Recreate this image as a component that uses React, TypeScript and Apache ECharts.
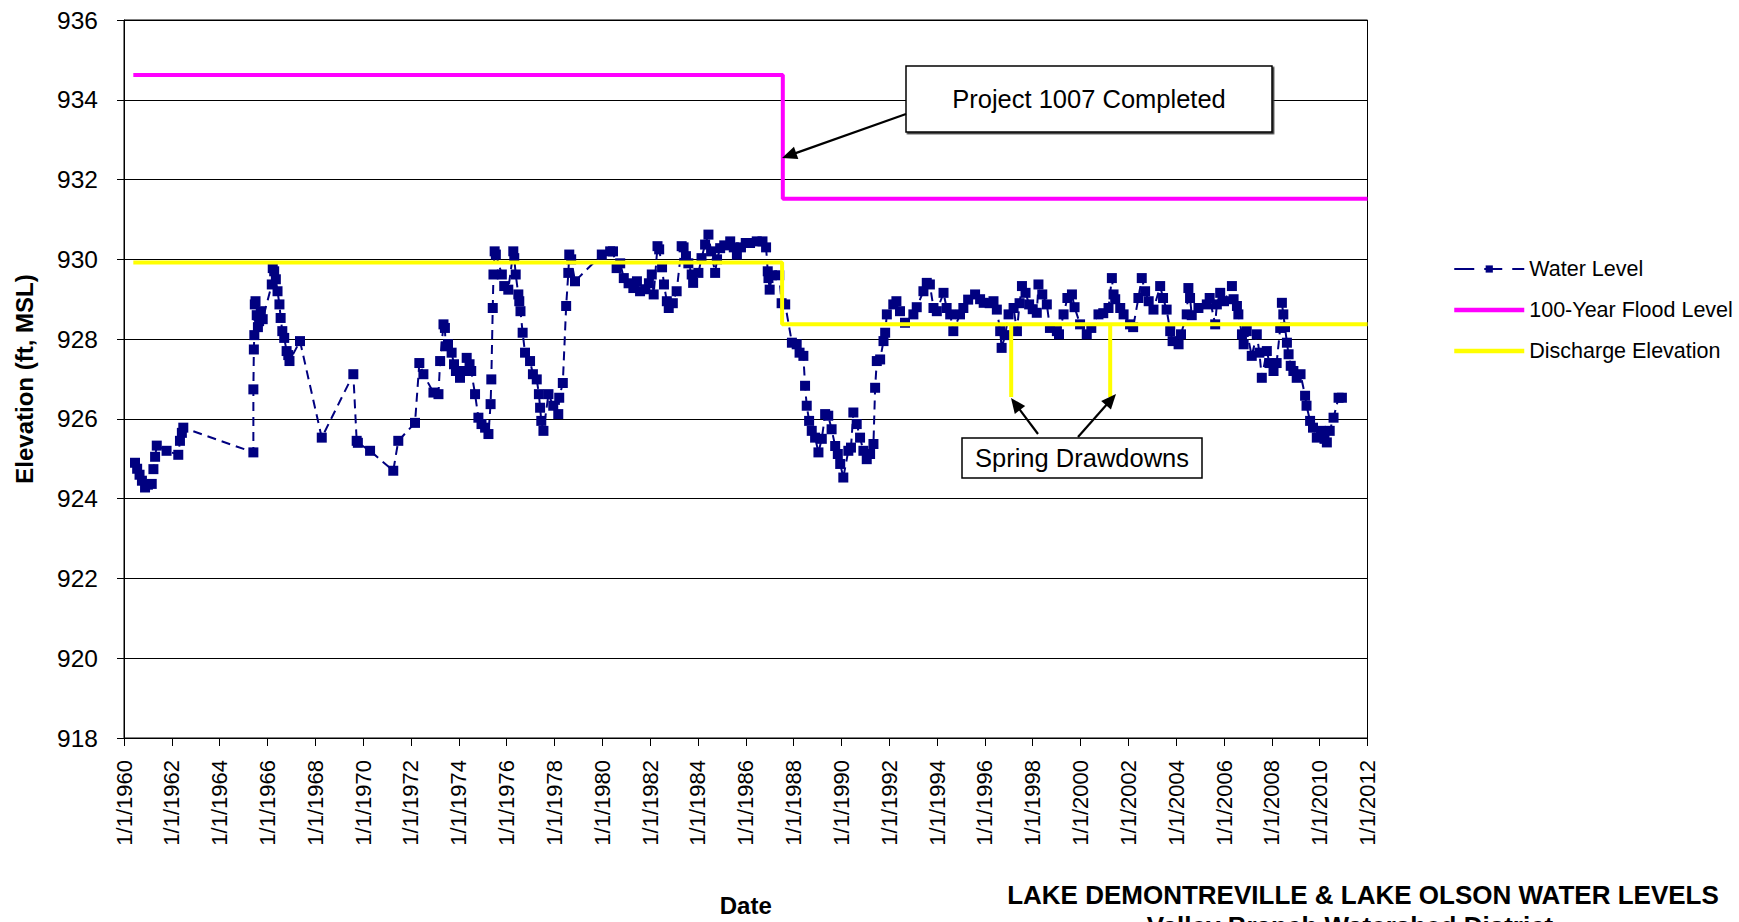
import React, { useEffect, useRef } from 'react';
import * as echarts from 'echarts';

// ---- Data (decimal years, elevation ft MSL) ----
const waterYears: number[] = [
  1960.46, 1960.55, 1960.65, 1960.75, 1960.88, 1961.0, 1961.16, 1961.23, 1961.3, 1961.37,
  1961.78, 1962.27, 1962.34, 1962.42, 1962.48, 1965.41, 1965.41, 1965.43, 1965.45, 1965.47,
  1965.5, 1965.55, 1965.6, 1965.65, 1965.72, 1965.8, 1966.18, 1966.22, 1966.28, 1966.35,
  1966.42, 1966.5, 1966.55, 1966.62, 1966.7, 1966.8, 1966.87, 1966.92, 1967.36, 1968.27,
  1969.59, 1969.73, 1969.78, 1970.29, 1971.26, 1971.47, 1972.17, 1972.35, 1972.52, 1972.94,
  1973.15, 1973.22, 1973.36, 1973.42, 1973.45, 1973.55, 1973.7, 1973.8, 1973.88, 1974.05,
  1974.2, 1974.33, 1974.45, 1974.52, 1974.68, 1974.82, 1974.95, 1975.1, 1975.24, 1975.33,
  1975.36, 1975.42, 1975.45, 1975.5, 1975.55, 1975.8, 1975.9, 1976.07, 1976.28, 1976.32,
  1976.38, 1976.49, 1976.53, 1976.58, 1976.67, 1976.77, 1976.98, 1977.1, 1977.26, 1977.35,
  1977.4, 1977.45, 1977.54, 1977.75, 1977.95, 1978.16, 1978.2, 1978.35, 1978.49, 1978.58,
  1978.62, 1978.7, 1978.86, 1979.98, 1980.33, 1980.45, 1980.6, 1980.75, 1980.9, 1981.1,
  1981.3, 1981.45, 1981.58, 1981.8, 1981.95, 1982.07, 1982.15, 1982.31, 1982.38, 1982.5,
  1982.58, 1982.7, 1982.78, 1982.95, 1983.11, 1983.32, 1983.4, 1983.5, 1983.6, 1983.74,
  1983.8, 1984.02, 1984.15, 1984.3, 1984.44, 1984.55, 1984.72, 1984.8, 1984.93, 1985.1,
  1985.35, 1985.5, 1985.63, 1985.8, 1986.0, 1986.18, 1986.46, 1986.7, 1986.85, 1986.92,
  1986.95, 1987.0, 1987.1, 1987.4, 1987.5, 1987.65, 1987.93, 1988.13, 1988.25, 1988.41,
  1988.48, 1988.55, 1988.65, 1988.76, 1988.9, 1989.04, 1989.18, 1989.32, 1989.45, 1989.59,
  1989.74, 1989.85, 1989.95, 1990.08, 1990.29, 1990.4, 1990.5, 1990.64, 1990.78, 1990.92,
  1991.06, 1991.2, 1991.34, 1991.41, 1991.48, 1991.62, 1991.76, 1991.83, 1991.9, 1992.17,
  1992.3, 1992.45, 1992.66, 1993.01, 1993.15, 1993.43, 1993.57, 1993.7, 1993.85, 1993.99,
  1994.27, 1994.4, 1994.55, 1994.68, 1994.96, 1995.1, 1995.3, 1995.59, 1995.8, 1995.95,
  1996.2, 1996.36, 1996.5, 1996.64, 1996.7, 1996.85, 1996.99, 1997.2, 1997.34, 1997.45,
  1997.55, 1997.7, 1997.85, 1998.0, 1998.17, 1998.24, 1998.4, 1998.59, 1998.72, 1999.01,
  1999.1, 1999.29, 1999.45, 1999.64, 1999.75, 1999.98, 2000.26, 2000.45, 2000.75, 2000.95,
  2001.17, 2001.31, 2001.38, 2001.45, 2001.66, 2001.8, 2002.07, 2002.2, 2002.42, 2002.56,
  2002.7, 2002.85, 2003.05, 2003.33, 2003.45, 2003.6, 2003.75, 2003.85, 2004.1, 2004.2,
  2004.44, 2004.51, 2004.58, 2004.65, 2004.93, 2005.28, 2005.4, 2005.63, 2005.7, 2005.84,
  2006.0, 2006.33, 2006.4, 2006.54, 2006.6, 2006.75, 2006.82, 2006.95, 2007.16, 2007.37,
  2007.48, 2007.58, 2007.79, 2007.9, 2008.07, 2008.2, 2008.35, 2008.42, 2008.48, 2008.55,
  2008.63, 2008.7, 2008.79, 2008.9, 2009.04, 2009.2, 2009.39, 2009.45, 2009.6, 2009.72,
  2009.88, 2010.05, 2010.2, 2010.3, 2010.42, 2010.58, 2010.79, 2010.93,
];
const waterLevels: number[] = [
  924.9, 924.75, 924.6, 924.45, 924.28, 924.35, 924.37, 924.74, 925.05, 925.33,
  925.2, 925.1, 925.45, 925.65, 925.78, 925.16, 926.74, 927.74, 928.1, 928.87,
  928.95, 928.6, 928.3, 928.45, 928.7, 928.5, 929.37, 929.78, 929.7, 929.5,
  929.2, 928.87, 928.53, 928.2, 928.03, 927.7, 927.6, 927.45, 927.95, 925.53,
  927.12, 925.45, 925.4, 925.2, 924.7, 925.45, 925.9, 927.4, 927.12, 926.66,
  926.62, 927.45, 928.37, 928.28, 927.82, 927.87, 927.66, 927.37, 927.2, 927.03,
  927.2, 927.53, 927.37, 927.2, 926.62, 926.03, 925.87, 925.78, 925.62, 926.37,
  926.99, 928.78, 929.62, 930.2, 930.12, 929.62, 929.33, 929.24, 930.2, 930.03,
  929.62, 929.12, 928.95, 928.7, 928.16, 927.66, 927.45, 927.12, 926.99, 926.62,
  926.28, 925.95, 925.7, 926.62, 926.33, 926.12, 926.53, 926.9, 928.83, 929.66,
  930.12, 930.0, 929.45, 930.12, 930.2, 930.2, 929.78, 929.9, 929.53, 929.4,
  929.28, 929.45, 929.2, 929.25, 929.4, 929.62, 929.12, 930.33, 930.25, 929.8,
  929.37, 928.95, 928.78, 928.9, 929.2, 930.33, 930.3, 930.08, 929.9, 929.62,
  929.41, 929.66, 930.03, 930.37, 930.62, 930.2, 929.66, 930.0, 930.28, 930.35,
  930.45, 930.3, 930.12, 930.3, 930.41, 930.41, 930.45, 930.45, 930.3, 929.7,
  929.53, 929.24, 929.6, 929.6, 928.9, 928.87, 927.91, 927.87, 927.66, 927.58,
  926.83, 926.33, 925.95, 925.7, 925.53, 925.16, 925.5, 926.12, 926.08, 925.74,
  925.32, 925.12, 924.87, 924.53, 925.2, 925.28, 926.16, 925.87, 925.53, 925.2,
  924.99, 925.12, 925.37, 926.78, 927.45, 927.49, 927.95, 928.16, 928.62, 928.87,
  928.95, 928.7, 928.41, 928.62, 928.8, 929.2, 929.41, 929.37, 928.78, 928.7,
  929.16, 928.78, 928.62, 928.2, 928.62, 928.78, 928.99, 929.12, 929.0, 928.91,
  928.9, 928.95, 928.74, 928.2, 927.78, 928.1, 928.62, 928.78, 928.2, 928.9,
  929.33, 929.16, 928.87, 928.75, 928.66, 929.37, 929.12, 928.87, 928.28, 928.2,
  928.12, 928.62, 929.03, 929.12, 928.8, 928.37, 928.12, 928.28, 928.62, 928.65,
  928.78, 929.53, 929.12, 929.0, 928.78, 928.62, 928.37, 928.3, 929.03, 929.53,
  929.2, 928.95, 928.74, 929.33, 929.03, 928.74, 928.2, 927.95, 927.87, 928.12,
  928.62, 929.28, 929.03, 928.6, 928.78, 928.87, 929.03, 928.37, 928.87, 929.16,
  928.95, 929.33, 929.0, 928.83, 928.62, 928.12, 927.87, 928.2, 927.58, 928.12,
  927.66, 927.03, 927.7, 927.4, 927.2, 927.4, 928.28, 928.91, 928.62, 928.3,
  927.91, 927.62, 927.33, 927.2, 927.03, 927.12, 926.58, 926.33, 925.95, 925.78,
  925.53, 925.7, 925.5, 925.41, 925.7, 926.03, 926.53, 926.53,
];
const floodYears: number[] = [1960.39, 1987.55, 1987.55, 2012];
const floodLevels: number[] = [934.62, 934.62, 931.52, 931.52];
const dischargeYears: number[] = [1960.39, 1987.52, 1987.52, 1997.1, 1997.1, 1997.1, 2001.24, 2001.24, 2001.24, 2012];
const dischargeLevels: number[] = [929.92, 929.92, 928.37, 928.37, 926.55, 928.37, 928.37, 926.55, 928.37, 928.37];

const seriesNames = ['Water Level', '100-Year Flood Level', 'Discharge Elevation'];
const titleText = 'LAKE DEMONTREVILLE & LAKE OLSON WATER LEVELS';
const subtitleText = 'Valley Branch Watershed District';
const projectNote = 'Project 1007 Completed';
const drawdownNote = 'Spring Drawdowns';

const FONT = '"Liberation Sans", Arial, Helvetica, sans-serif';

function zip(xs: number[], ys: number[]) {
  return xs.map((x, i) => [x, ys[i]]);
}

function arrow(sx: number, sy: number, tx: number, ty: number) {
  const dx = tx - sx;
  const dy = ty - sy;
  const len = Math.sqrt(dx * dx + dy * dy);
  const ux = dx / len;
  const uy = dy / len;
  const L = 15;
  const W = 6.5;
  const bx = tx - ux * L;
  const by = ty - uy * L;
  return [
    {
      type: 'line',
      shape: { x1: sx, y1: sy, x2: bx + ux * 2, y2: by + uy * 2 },
      style: { stroke: '#000', lineWidth: 2.2 },
      z: 100,
    },
    {
      type: 'polygon',
      shape: {
        points: [
          [tx, ty],
          [bx - uy * W, by + ux * W],
          [bx + uy * W, by - ux * W],
        ],
      },
      style: { fill: '#000' },
      z: 100,
    },
  ];
}

export default function App() {
  const ref = useRef<HTMLDivElement>(null);

  useEffect(() => {
    if (!ref.current) return;
    const chart = echarts.init(ref.current, undefined, { renderer: 'svg' });

    const graphic: any[] = [
      {
        type: 'rect',
        shape: { x: 906, y: 66, width: 366, height: 66 },
        style: { fill: '#fff', stroke: '#000', lineWidth: 1.5, shadowBlur: 0, shadowOffsetX: 1.5, shadowOffsetY: 1.5, shadowColor: '#333' },
        z: 100,
      },
      {
        type: 'text',
        x: 1089,
        y: 99,
        style: { text: projectNote, font: `25.5px ${FONT}`, fill: '#000', textAlign: 'center', textVerticalAlign: 'middle' },
        z: 101,
      },
      ...arrow(906, 114, 782, 158),
      {
        type: 'rect',
        shape: { x: 962, y: 438, width: 240, height: 40 },
        style: { fill: '#fff', stroke: '#000', lineWidth: 1.5 },
        z: 100,
      },
      {
        type: 'text',
        x: 1082,
        y: 458,
        style: { text: drawdownNote, font: `25.5px ${FONT}`, fill: '#000', textAlign: 'center', textVerticalAlign: 'middle' },
        z: 101,
      },
      ...arrow(1038, 434, 1011, 398),
      ...arrow(1078, 437, 1116, 394),
      {
        type: 'text',
        x: 1363,
        y: 895,
        style: { text: titleText, font: `bold 26px ${FONT}`, fill: '#000', textAlign: 'center', textVerticalAlign: 'middle' },
      },
      {
        type: 'text',
        x: 1350,
        y: 926,
        style: { text: subtitleText, font: `bold 26px ${FONT}`, fill: '#000', textAlign: 'center', textVerticalAlign: 'middle' },
      },
    ];

    chart.setOption({
      animation: false,
      backgroundColor: '#fff',
      textStyle: { fontFamily: FONT },
      grid: {
        left: 124,
        top: 20,
        right: 371.5,
        bottom: 182,
        show: true,
        borderColor: '#000',
        borderWidth: 1,
        backgroundColor: 'transparent',
      },
      legend: {
        data: [
          { name: seriesNames[0], lineStyle: { width: 2, type: [20, 10, 18, 10] } },
          { name: seriesNames[1], itemStyle: { opacity: 0 }, lineStyle: { width: 4.5 } },
          { name: seriesNames[2], itemStyle: { opacity: 0 }, lineStyle: { width: 4.5 } },
        ],
        orient: 'vertical',
        left: 1452,
        top: 257,
        padding: 0,
        itemWidth: 70,
        itemHeight: 9,
        itemGap: 17,
        textStyle: { fontSize: 21.5, color: '#000', lineHeight: 24, fontFamily: FONT },
        selectedMode: false,
      },
      xAxis: {
        type: 'value',
        min: 1960,
        max: 2012,
        interval: 2,
        name: 'Date',
        nameLocation: 'middle',
        nameGap: 155,
        nameTextStyle: { fontSize: 24, fontWeight: 'bold', color: '#000', fontFamily: FONT },
        axisLine: { show: true, lineStyle: { color: '#000', width: 1 } },
        axisTick: { show: true, inside: false, length: 8, lineStyle: { color: '#000' } },
        axisLabel: {
          rotate: 90,
          margin: 22,
          fontSize: 22,
          color: '#000',
          fontFamily: FONT,
          formatter: (v: number) => '1/1/' + v,
        },
        splitLine: { show: false },
      },
      yAxis: {
        type: 'value',
        min: 918,
        max: 936,
        interval: 2,
        name: 'Elevation (ft, MSL)',
        nameLocation: 'middle',
        nameGap: 88,
        nameTextStyle: { fontSize: 24, fontWeight: 'bold', color: '#000', fontFamily: FONT },
        axisLine: { show: true, lineStyle: { color: '#000', width: 1 } },
        axisTick: { show: true, inside: false, length: 7, lineStyle: { color: '#000' } },
        axisLabel: { margin: 26, fontSize: 24.5, color: '#000', fontFamily: FONT },
        splitLine: { show: true, lineStyle: { color: '#000', width: 1 } },
      },
      series: [
        {
          name: seriesNames[0],
          type: 'line',
          data: zip(waterYears, waterLevels),
          symbol: 'rect',
          symbolSize: 10,
          showAllSymbol: true,
          itemStyle: { color: '#000080' },
          lineStyle: { color: '#000080', width: 2, type: [9, 6] },
          z: 2,
        },
        {
          name: seriesNames[1],
          type: 'line',
          data: zip(floodYears, floodLevels),
          symbol: 'none',
          itemStyle: { color: '#FF00FF' },
          lineStyle: { color: '#FF00FF', width: 4 },
          z: 3,
        },
        {
          name: seriesNames[2],
          type: 'line',
          data: zip(dischargeYears, dischargeLevels),
          symbol: 'none',
          itemStyle: { color: '#FFFF00' },
          lineStyle: { color: '#FFFF00', width: 4 },
          z: 4,
        },
      ],
      graphic,
    });

    return () => {
      chart.dispose();
    };
  }, []);

  return (
    <div
      ref={ref}
      style={{ position: 'fixed', left: 0, top: 0, width: 1739, height: 922, background: '#fff' }}
    />
  );
}
